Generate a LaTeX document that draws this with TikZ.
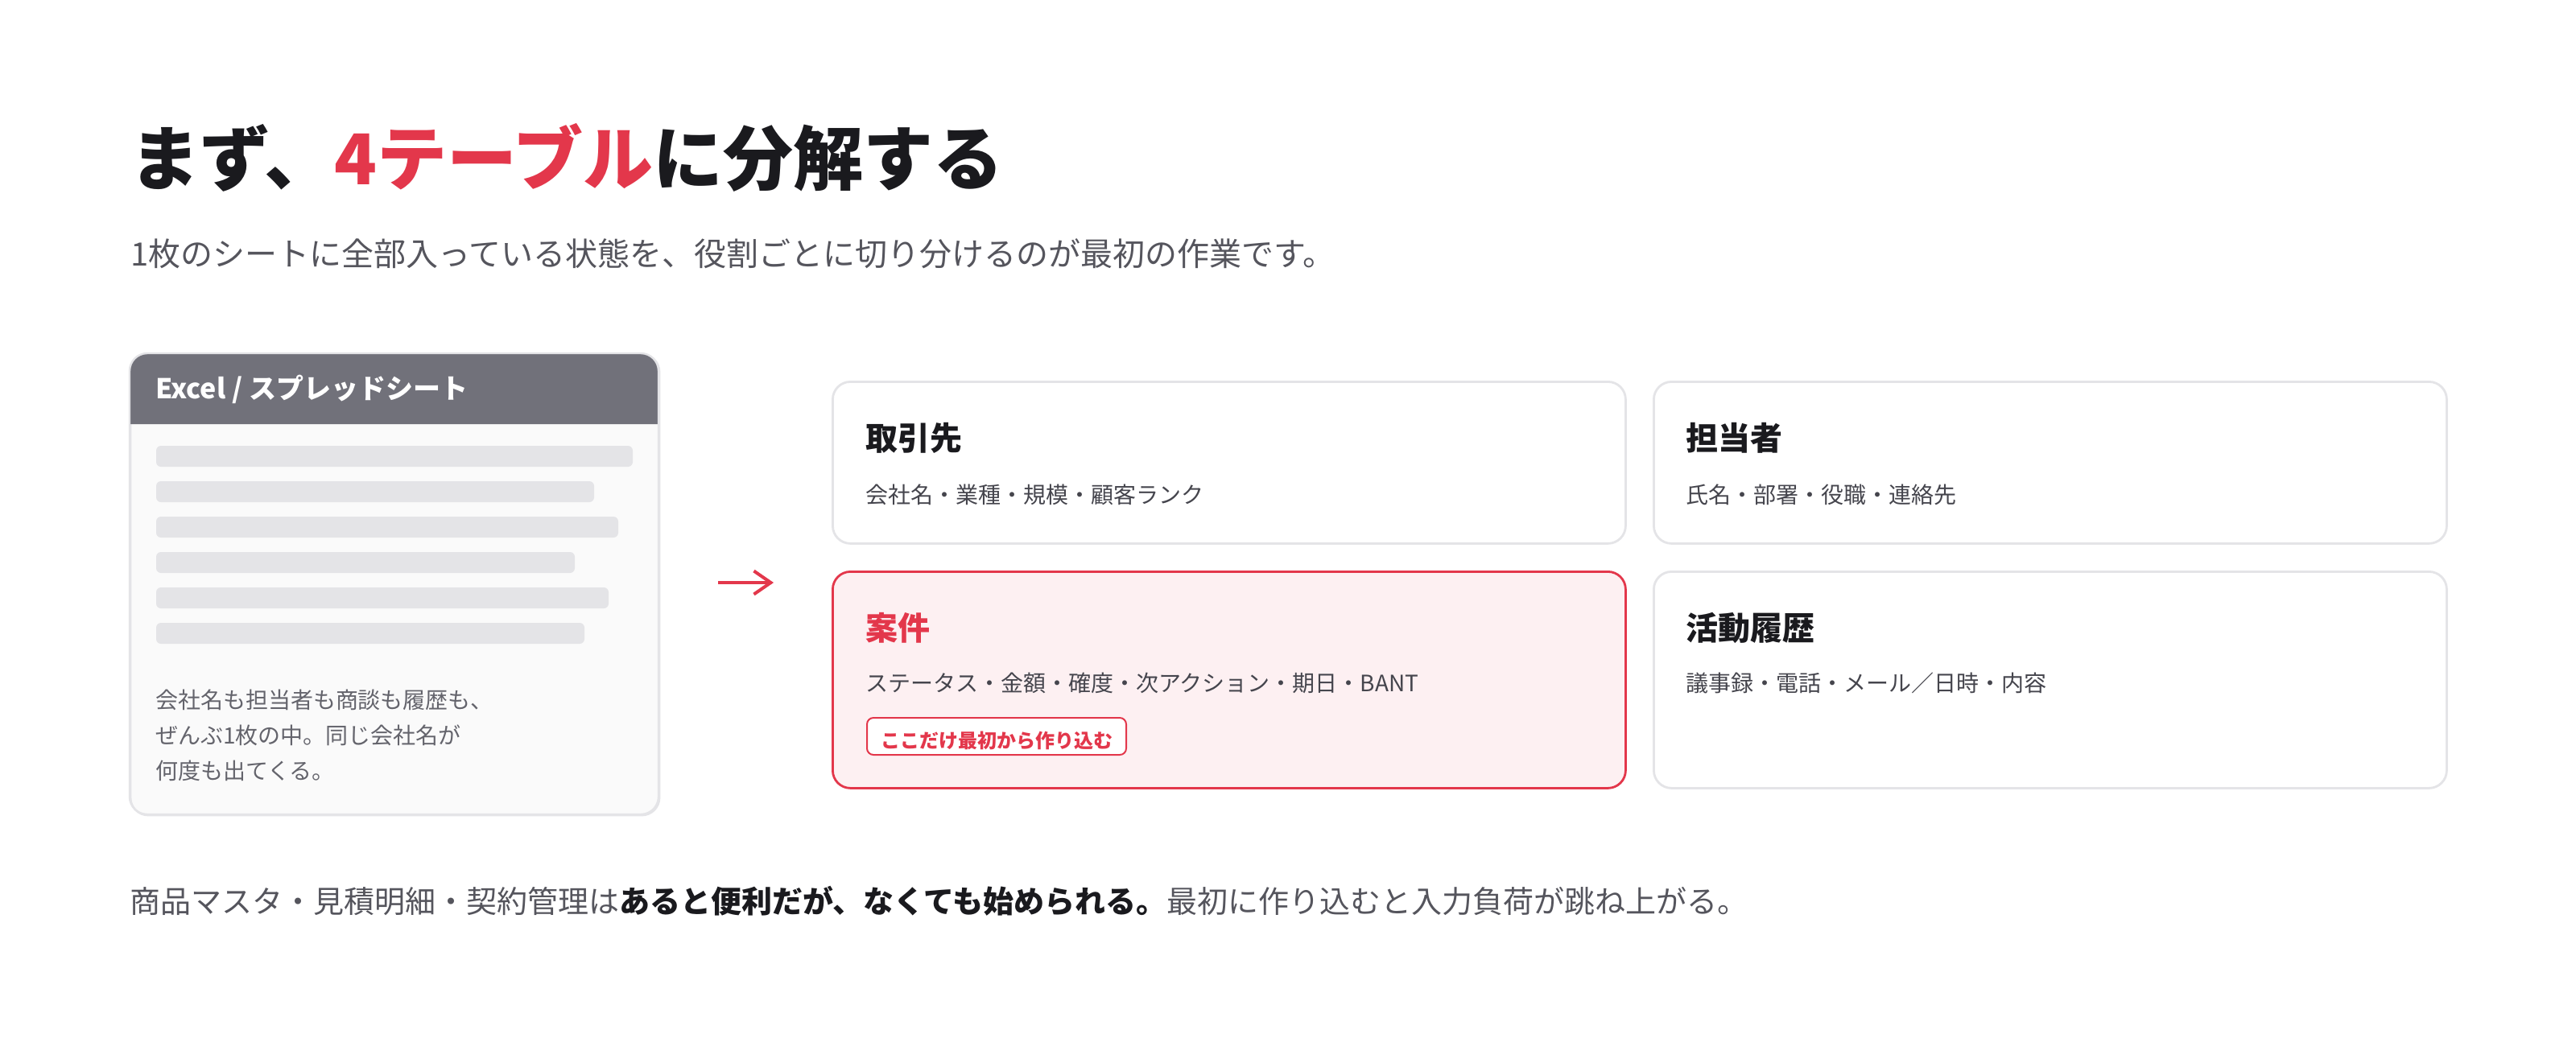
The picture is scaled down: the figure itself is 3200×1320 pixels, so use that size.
\documentclass[tikz,border=0pt]{standalone}
\usepackage{fontspec}
\setmainfont{Noto Sans CJK JP}
\newfontfamily\heavyfont{Noto Sans CJK JP Black}
\usetikzlibrary{arrows.meta}
\definecolor{ink}{HTML}{1A1A1E}
\definecolor{accent}{HTML}{E3374B}
\definecolor{subgray}{HTML}{55555D}
\definecolor{hdr}{HTML}{71717A}
\definecolor{cardbg}{HTML}{FAFAFA}
\definecolor{cardline}{HTML}{E4E4E7}
\definecolor{barc}{HTML}{E4E4E7}
\definecolor{bodygray}{HTML}{64646C}
\definecolor{descgray}{HTML}{45454D}
\definecolor{pinkbg}{HTML}{FDF0F2}
\newcommand{\setfs}[1]{\fontsize{#1}{#1}\selectfont}
\tikzset{
  txt/.style={anchor=base west, inner sep=0pt, outer sep=0pt},
  tcard/.style={draw=cardline, line width=0.7pt, fill=white, rounded corners=5.5pt,
    anchor=north west, inner sep=0pt, minimum width=246.25pt},
  hotcard/.style={tcard, draw=accent, fill=pinkbg},
  excard/.style={draw=cardline, line width=0.6pt, fill=cardbg, rounded corners=5.5pt,
    anchor=north west, inner sep=0pt, minimum width=164.25pt, minimum height=143.25pt},
  bar/.style={fill=barc, rounded corners=1.5pt},
  ctitle/.style={txt, font=\setfs{10pt}\bfseries, text=ink},
  cdesc/.style={txt, font=\setfs{7pt}, text=descgray},
  exbody/.style={txt, font=\setfs{7pt}, text=bodygray},
  badge/.style={draw=accent, line width=0.5pt, fill=white, rounded corners=2pt, anchor=west,
    font=\setfs{6pt}\bfseries, text=accent, inner xsep=4.25pt, inner ysep=0pt,
    minimum height=11.5pt, text height=0.8em, text depth=0.06em},
  redarrow/.style={draw=accent, line width=1pt, -{Straight Barb[length=5.25pt, width=7.25pt, line width=1pt]}},
}
\begin{document}
\begin{tikzpicture}[x=0.25pt,y=-0.25pt]
\useasboundingbox (0,0) rectangle (3200,1320);
\fill[white] (0,0) rectangle (3200,1320);

% title and subtitle
\node[txt, font=\setfs{21.75pt}\heavyfont, text=ink] (title) at (161,229)
  {まず、{\color{accent}4テーブル}に分解する};
\node[txt, font=\setfs{10pt}, text=subgray] (sub) at (162,330)
  {1枚のシートに全部入っている状態を、役割ごとに切り分けるのが最初の作業です。};

% Excel card
\node[excard] (ex) at (161,439) {};
\fill[hdr] (161,527) [rounded corners=5.5pt] -- (161,439) -- (818,439) [sharp corners] -- (818,527) -- cycle;
\draw[cardline, line width=0.6pt, rounded corners=5.5pt] (161,439) rectangle (818,1012);
\node[txt, font=\setfs{8.5pt}\bfseries, text=white] (exh) at (193,495) {Excel / スプレッドシート};
\fill[bar] (194,554) rectangle (786,580);
\fill[bar] (194,598) rectangle (738,624);
\fill[bar] (194,642) rectangle (768,668);
\fill[bar] (194,686) rectangle (714,712);
\fill[bar] (194,730) rectangle (756,756);
\fill[bar] (194,774) rectangle (726,800);
\node[exbody] (ex1) at (193,880) {会社名も担当者も商談も履歴も、};
\node[exbody] (ex2) at (193,924) {ぜんぶ1枚の中。同じ会社名が};
\node[exbody] (ex3) at (193,968) {何度も出てくる。};

% arrow
\coordinate (ar1) at (892,724);
\coordinate (ar2) at (961,724);
\draw[redarrow] (ar1) -- (ar2);

% table cards
\node[tcard, minimum height=50.25pt] (c1) at (1033,473) {};
\node[tcard, minimum height=50.25pt] (c2) at (2053,473) {};
\node[hotcard, minimum height=67.25pt] (c3) at (1033,709) {};
\node[tcard, minimum height=67.25pt] (c4) at (2053,709) {};

\node[ctitle] (t1) at (1075,559) {取引先};
\node[cdesc] (d1) at (1075,625) {会社名・業種・規模・顧客ランク};
\node[ctitle] (t2) at (2094,559) {担当者};
\node[cdesc] (d2) at (2094,625) {氏名・部署・役職・連絡先};
\node[ctitle, text=accent] (t3) at (1075,795) {案件};
\node[cdesc] (d3) at (1075,859) {ステータス・金額・確度・次アクション・期日・BANT};
\node[badge] (b3) at (1076,915) {ここだけ最初から作り込む};
\node[ctitle] (t4) at (2094,795) {活動履歴};
\node[cdesc] (d4) at (2094,859) {議事録・電話・メール／日時・内容};

% bottom note
\node[txt, font=\setfs{9.5pt}, text=subgray] (note) at (161,1134)
  {商品マスタ・見積明細・契約管理は{\bfseries\color{ink}あると便利だが、なくても始められる。}最初に作り込むと入力負荷が跳ね上がる。};
\end{tikzpicture}
\end{document}
